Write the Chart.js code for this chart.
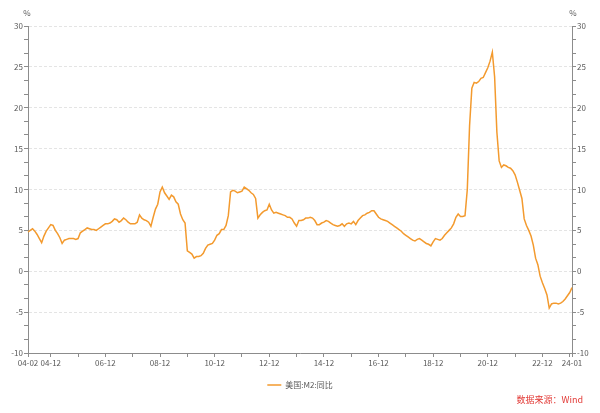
<!DOCTYPE html>
<html>
<head>
<meta charset="utf-8">
<script src="https://cdn.jsdelivr.net/npm/chart.js@4.4.1/dist/chart.umd.min.js"></script>
<style>
  html, body { margin: 0; padding: 0; background: #fff; }
  #wrap { position: relative; width: 600px; height: 413px; }
  #source {
    position: absolute; right: 17px; top: 393px;
    font: 9px "Noto Sans CJK SC", sans-serif; color: #e23a36;
  }
</style>
</head>
<body>
<div id="wrap">
  <canvas id="chart-m2" width="600" height="413"></canvas>
  <div id="source">数据来源：Wind</div>
</div>
<script>
// 美国 M2 同比, 月度, 2004-02 ~ 2024-01
var seriesName = "美国:M2:同比";

var m2Yoy = [
  4.8, 5.0, 5.2, 4.9, 4.5, 4.0, 3.5, 4.3, 4.9, 5.3, 5.7, 5.6,
  5.0, 4.6, 4.1, 3.4, 3.8, 3.9, 4.0, 4.0, 4.0, 3.9, 4.0, 4.7,
  4.9, 5.1, 5.3, 5.2, 5.1, 5.1, 5.0, 5.2, 5.4, 5.6, 5.8, 5.8,
  5.9, 6.1, 6.4, 6.3, 6.0, 6.2, 6.5, 6.3, 6.0, 5.8, 5.8, 5.8,
  6.0, 6.9, 6.5, 6.3, 6.2, 6.0, 5.5, 6.6, 7.6, 8.2, 9.7, 10.3,
  9.6, 9.2, 8.8, 9.3, 9.1, 8.5, 8.2, 7.0, 6.3, 5.9, 2.5, 2.3,
  2.1, 1.6, 1.8, 1.8, 1.9, 2.2, 2.8, 3.2, 3.3, 3.4, 3.8, 4.4,
  4.6, 5.1, 5.1, 5.6, 6.8, 9.7, 9.9, 9.8, 9.6, 9.7, 9.8, 10.3,
  10.1, 9.9, 9.6, 9.4, 8.9, 6.5, 6.9, 7.2, 7.4, 7.5, 8.2, 7.5,
  7.1, 7.2, 7.1, 7.0, 6.9, 6.8, 6.6, 6.6, 6.4, 5.9, 5.5, 6.2,
  6.2, 6.3, 6.5, 6.5, 6.6, 6.5, 6.2, 5.7, 5.7, 5.9, 6.0, 6.2,
  6.1, 5.9, 5.7, 5.6, 5.5, 5.6, 5.8, 5.5, 5.8, 5.9, 5.8, 6.1,
  5.7, 6.2, 6.5, 6.8, 6.9, 7.1, 7.2, 7.4, 7.4, 7.0, 6.6, 6.4,
  6.3, 6.2, 6.1, 5.9, 5.7, 5.5, 5.3, 5.1, 4.9, 4.6, 4.4, 4.2,
  4.0, 3.8, 3.7, 3.9, 4.0, 3.8, 3.6, 3.4, 3.3, 3.1, 3.6, 4.0,
  3.9, 3.8, 4.0, 4.4, 4.7, 5.0, 5.3, 5.8, 6.6, 7.0, 6.7, 6.7,
  6.8, 10.0, 17.8, 22.4, 23.1, 23.0, 23.2, 23.6, 23.7, 24.3, 24.9, 25.7,
  26.8, 23.8, 17.0, 13.5, 12.7, 13.0, 12.9, 12.7, 12.6, 12.3, 11.8, 10.9,
  9.9, 8.9, 6.4, 5.6, 5.0, 4.3, 3.2, 1.6, 0.8, -0.6, -1.4, -2.1,
  -2.9, -4.5, -4.0, -3.9, -3.9, -4.0, -3.9, -3.7, -3.4, -3.0, -2.6, -2.0
];

// 月份标签 04-02 ... 24-01
var months = [];
for (var k = 0; k < m2Yoy.length; k++) {
  var m = 1 + k; // 2004-02 起
  var yy = 2004 + Math.floor(m / 12);
  var mm = (m % 12) + 1;
  months.push(String(yy).slice(2) + "-" + (mm < 10 ? "0" + mm : mm));
}

var xTickLabels = ["04-02", "04-12", "06-12", "08-12", "10-12", "12-12", "14-12",
                   "16-12", "18-12", "20-12", "22-12", "24-01"];
var yTickLabels = [-10, -5, 0, 5, 10, 15, 20, 25, 30];

var axisColor = "#8c8c8c";
var textColor = "#595959";
var lineColor = "#f39a2e";
var fontFamily = '"Noto Sans CJK SC", "Noto Sans", sans-serif';

function isMajor(v) {
  return yTickLabels.some(function(t) { return Math.abs(t - v) < 1e-6; });
}

var yAxisBase = {
  min: -10,
  max: 30,
  afterFit: function(scale) { scale.width = 28; },
  ticks: {
    stepSize: 5 / 3,
    autoSkip: false,
    padding: 1,
    color: textColor,
    font: { size: 8, family: fontFamily },
    callback: function(value) { return isMajor(value) ? Math.round(value) : ""; }
  },
  border: { color: axisColor, width: 1, dash: [3, 2] },
  grid: {
    tickLength: 4,
    tickColor: axisColor,
    color: function(ctx) {
      return ctx.tick && isMajor(ctx.tick.value) ? "#e4e4e4" : "rgba(0,0,0,0)";
    }
  }
};

var percentLabels = {
  id: "percentLabels",
  afterDraw: function(chart) {
    var c = chart.ctx;
    c.save();
    c.font = "8px " + fontFamily;
    c.fillStyle = textColor;
    c.textAlign = "center";
    c.textBaseline = "middle";
    c.fillText("%", chart.scales.y.right - 1, 13);
    c.fillText("%", chart.scales.y2.left + 1, 13);
    c.restore();
  }
};

document.addEventListener("DOMContentLoaded", function() {
  var ctx = document.getElementById("chart-m2").getContext("2d");

  var chart = new Chart(ctx, {
    type: "line",
    data: {
      labels: months,
      datasets: [
        {
          label: seriesName,
          data: m2Yoy,
          borderColor: lineColor,
          backgroundColor: lineColor,
          borderWidth: 1.5,
          pointRadius: 0,
          tension: 0,
          yAxisID: "y"
        }
      ]
    },
    options: {
      responsive: false,
      animation: false,
      devicePixelRatio: 1,
      layout: { padding: { top: 26, left: 0, right: 0, bottom: 14 } },
      plugins: {
        tooltip: { enabled: false },
        legend: {
          position: "bottom",
          labels: {
            usePointStyle: true,
            pointStyle: "line",
            pointStyleWidth: 14,
            padding: 4,
            color: textColor,
            font: { size: 8, family: fontFamily }
          }
        }
      },
      scales: {
        x: {
          offset: false,
          afterFit: function(scale) { scale.height = 24; },
          afterBuildTicks: function(scale) {
            scale.ticks = scale.ticks.filter(function(t) {
              var lab = months[t.value];
              return t.value === 0 || t.value === months.length - 1 || lab.slice(3) === "12";
            });
          },
          ticks: {
            autoSkip: false,
            maxRotation: 0,
            padding: 1,
            color: textColor,
            font: { size: 8, family: fontFamily },
            callback: function(value) {
              var lab = this.getLabelForValue(value);
              return xTickLabels.indexOf(lab) >= 0 ? lab : "";
            }
          },
          border: { color: axisColor, width: 1 },
          grid: { drawOnChartArea: false, tickLength: 4, tickColor: axisColor }
        },
        y: Object.assign({ position: "left" }, yAxisBase),
        y2: Object.assign({}, yAxisBase, {
          position: "right",
          display: true,
          grid: Object.assign({}, yAxisBase.grid, { drawOnChartArea: false })
        })
      }
    },
    plugins: [percentLabels]
  });
});
</script>
</body>
</html>
